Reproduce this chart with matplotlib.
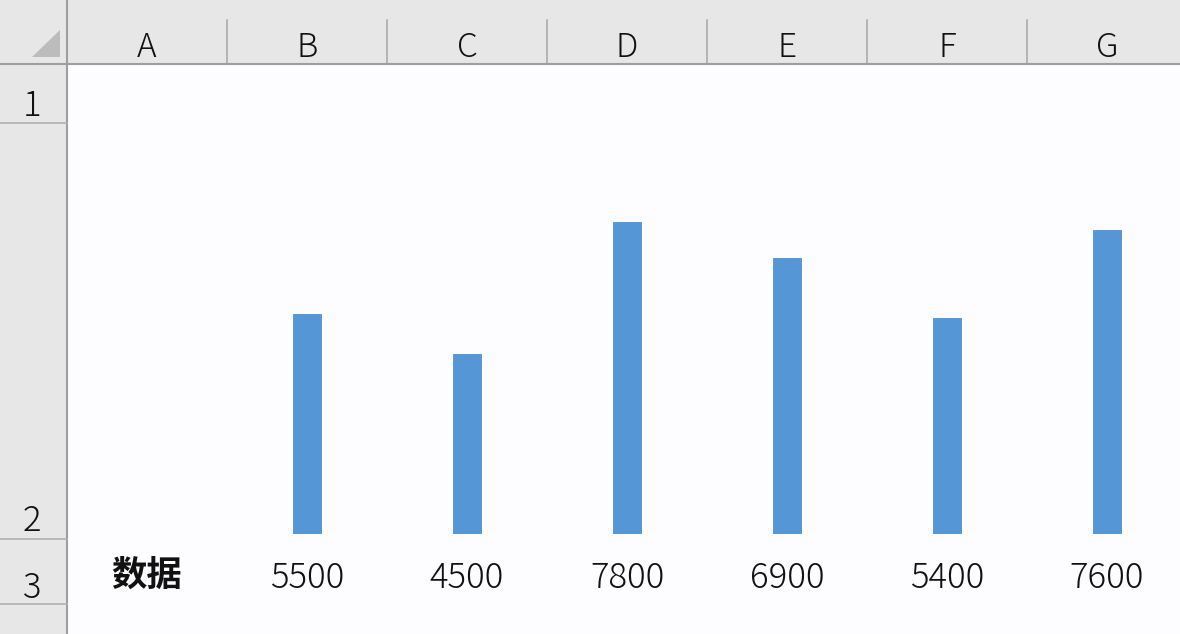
import matplotlib
matplotlib.use("Agg")
import matplotlib.pyplot as plt
from matplotlib.patches import Rectangle, Polygon

# ---- data ----
columns = ["A", "B", "C", "D", "E", "F", "G"]
rows = ["1", "2", "3"]
row_label = "数据"
values = [5500, 4500, 7800, 6900, 5400, 7600]

W, H = 1180, 634
fig = plt.figure(figsize=(W / 100, H / 100), dpi=100)
fig.patch.set_facecolor("#fdfdff")

FONT_LIGHT = ["Noto Sans CJK JP", "DejaVu Sans"]
FONT_BOLD = ["Noto Sans CJK SC", "Noto Sans CJK JP", "DejaVu Sans"]

# background "spreadsheet chrome" axes in pixel space
bg = fig.add_axes([0, 0, 1, 1])
bg.set_xlim(0, W)
bg.set_ylim(H, 0)
bg.axis("off")

header_gray = "#e7e7e7"
col_w = 160
x0 = 67
header_h = 64
# headers
bg.add_patch(Rectangle((0, 0), W, header_h, color=header_gray, lw=0))
bg.add_patch(Rectangle((0, 0), x0, H, color=header_gray, lw=0))
# corner triangle
bg.add_patch(Polygon([(32, 57), (60, 57), (60, 30)], closed=True, color="#bcbcbc", lw=0))
# column separators & letters
for i, c in enumerate(columns):
    left = x0 + i * col_w
    if i > 0:
        bg.plot([left, left], [20, header_h], color="#ababab", lw=1.2)
    bg.text(left + col_w / 2, 57, c, ha="center", va="baseline",
            fontsize=24, family=FONT_LIGHT, color="#111111", fontweight=300)
bg.plot([0, W], [header_h, header_h], color="#9e9e9e", lw=1.5)
bg.plot([x0 - 0.5, x0 - 0.5], [0, H], color="#9e9e9e", lw=1.5)

# row separators & numbers
row_bounds = [64, 123, 539, 604]
row_baselines = [116, 531, 598]
for yb in row_bounds[1:]:
    bg.plot([0, x0], [yb, yb], color="#b0b0b0", lw=1.2)
for r, yb in zip(rows, row_baselines):
    bg.text(32, yb, r, ha="center", va="baseline", fontsize=25,
            family=FONT_LIGHT, color="#111111", fontweight=300)

# row 3 cell texts
bg.text(x0 + col_w / 2, 575, row_label, ha="center", va="center",
        fontsize=25.5, family=FONT_BOLD, fontweight="bold", color="#111111")
for i, v in enumerate(values):
    cx = x0 + (i + 1) * col_w + col_w / 2
    bg.text(cx, 588, f"{v}", ha="center", va="baseline", fontsize=25,
            family=FONT_LIGHT, color="#111111", fontweight=300)

# ---- bars (in-cell chart for row 2) ----
bar_bottom_px, bar_top_px = 534, 123
ax = fig.add_axes([x0 / W, (H - bar_bottom_px) / H, (W - x0) / W,
                   (bar_bottom_px - bar_top_px) / H])
ax.set_facecolor("none")
ax.set_xlim(-0.5, (W - x0) / col_w - 0.5)
ax.set_ylim(0, (bar_bottom_px - bar_top_px) / 0.04)
xs = list(range(1, len(values) + 1))
ax.bar(xs, values, width=0.18, color="#5596d6", edgecolor="#4f8fd0", lw=0.6)
ax.axis("off")

fig.savefig("out.png", dpi=100, facecolor=fig.get_facecolor())
